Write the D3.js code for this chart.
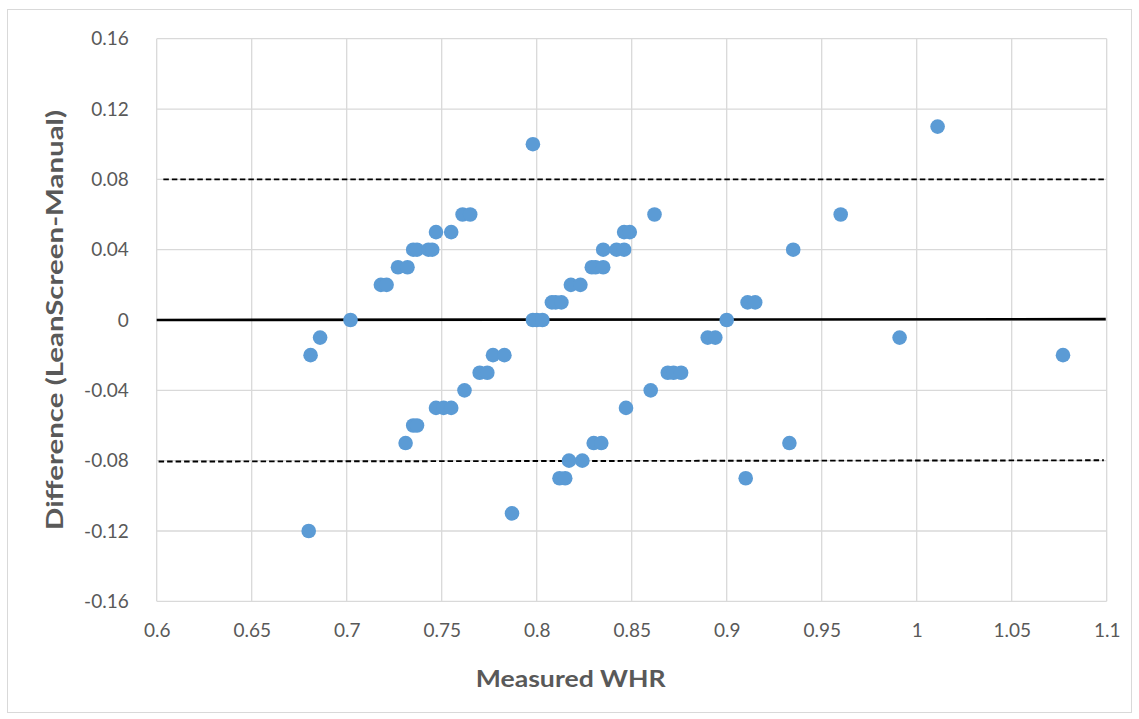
<!DOCTYPE html>
<html>
<head>
<meta charset="utf-8">
<script src="https://cdn.jsdelivr.net/npm/d3@7/dist/d3.min.js"></script>
<style>
  html, body { margin: 0; padding: 0; background: #fff; }
  svg { display: block; }
  text { font-family: Lato, "Open Sans", "DejaVu Sans", sans-serif; }
</style>
</head>
<body>
<svg id="chart" width="1139" height="719"></svg>
<script>
// Measured WHR (x) and Difference LeanScreen-Manual (y)
const whr = [0.681,0.686,0.702,0.718,0.721,0.727,0.732,0.735,0.737,0.743,0.745,0.747,0.755,0.761,0.765,0.798,
  0.762,0.770,0.774,0.777,0.783,0.747,0.751,0.755,0.798,0.800,0.803,0.808,0.810,0.813,0.818,0.823,
  0.829,0.831,0.835,0.835,0.842,0.846,0.846,0.849,0.862,0.960,0.935,0.911,0.915,0.900,0.890,0.894,
  0.869,0.872,0.876,0.860,0.847,0.731,0.735,0.737,0.787,0.680,0.812,0.815,0.817,0.824,0.830,0.834,
  0.933,0.910,1.011,0.991,1.077];
const diff = [-0.02,-0.01,0,0.02,0.02,0.03,0.03,0.04,0.04,0.04,0.04,0.05,0.05,0.06,0.06,0.10,
  -0.04,-0.03,-0.03,-0.02,-0.02,-0.05,-0.05,-0.05,0,0,0,0.01,0.01,0.01,0.02,0.02,
  0.03,0.03,0.03,0.04,0.04,0.04,0.05,0.05,0.06,0.06,0.04,0.01,0.01,0,-0.01,-0.01,
  -0.03,-0.03,-0.03,-0.04,-0.05,-0.07,-0.06,-0.06,-0.11,-0.12,-0.09,-0.09,-0.08,-0.08,-0.07,-0.07,
  -0.07,-0.09,0.11,-0.01,-0.02];

const xTicks = [0.6,0.65,0.7,0.75,0.8,0.85,0.9,0.95,1,1.05,1.1];
const yTicks = [-0.16,-0.12,-0.08,-0.04,0,0.04,0.08,0.12,0.16];
const xTickLabels = ["0.6","0.65","0.7","0.75","0.8","0.85","0.9","0.95","1","1.05","1.1"];
const yTickLabels = ["-0.16","-0.12","-0.08","-0.04","0","0.04","0.08","0.12","0.16"];

// Mean line and limits of agreement
const refLineY0 = [0, 0.08, -0.0805];
const refLineY1 = [0.0005, 0.08, -0.0798];
const refLineX0 = [0.6, 0.6035, 0.601];
const refLineX1 = [1.0995, 1.0985, 1.0985];
const refLineDashed = [false, true, true];

const xTitle = "Measured WHR";
const yTitle = "Difference (LeanScreen-Manual)";

const svg = d3.select("#chart");
const plotLeft = 156.7, plotRight = 1106.7, plotTop = 38.7, plotBottom = 601.3;

const x = d3.scaleLinear().domain([0.6, 1.1]).range([plotLeft, plotRight]);
const y = d3.scaleLinear().domain([-0.16, 0.16]).range([plotBottom, plotTop]);

// outer chart border
svg.append("rect").attr("x", 7.5).attr("y", 9.5).attr("width", 1124).attr("height", 703)
  .attr("fill", "#fff").attr("stroke", "#d9d9d9").attr("stroke-width", 1);

// gridlines
const grid = svg.append("g");
grid.selectAll(".vg").data(xTicks).join("line")
  .attr("x1", d => x(d)).attr("x2", d => x(d)).attr("y1", plotTop).attr("y2", plotBottom)
  .attr("stroke", "#d9d9d9").attr("stroke-width", 1.3);
grid.selectAll(".hg").data(yTicks).join("line")
  .attr("x1", plotLeft).attr("x2", plotRight).attr("y1", d => y(d)).attr("y2", d => y(d))
  .attr("stroke", "#d9d9d9").attr("stroke-width", 1.3);

// axes labels via d3 axes
const xAxis = d3.axisBottom(x).tickValues(xTicks).tickFormat((d, i) => xTickLabels[i]).tickSize(0).tickPadding(22);
const gx = svg.append("g").attr("transform", `translate(0,${plotBottom})`).call(xAxis);
gx.select(".domain").remove();
gx.selectAll("text").attr("fill", "#595959").style("font-size", "19px").style("font-family", "Lato, sans-serif");

const yAxis = d3.axisLeft(y).tickValues(yTicks).tickFormat((d, i) => yTickLabels[i]).tickSize(0).tickPadding(28);
const gy = svg.append("g").attr("transform", `translate(${plotLeft},0)`).call(yAxis);
gy.select(".domain").remove();
gy.selectAll("text").attr("fill", "#595959").style("font-size", "19px").style("font-family", "Lato, sans-serif");

// reference lines
const refs = refLineY0.map((v, i) => ({ x0: refLineX0[i], x1: refLineX1[i], y0: v, y1: refLineY1[i], dashed: refLineDashed[i] }));
svg.append("g").selectAll("line").data(refs).join("line")
  .attr("x1", d => x(d.x0)).attr("x2", d => x(d.x1))
  .attr("y1", d => y(d.y0)).attr("y2", d => y(d.y1))
  .attr("stroke", "#000")
  .attr("stroke-width", d => d.dashed ? 1.9 : 2.6)
  .attr("stroke-dasharray", d => d.dashed ? "5.5,3" : null);

// points
const pts = whr.map((v, i) => ({ x: v, y: diff[i] }));
svg.append("g").selectAll("circle").data(pts).join("circle")
  .attr("cx", d => x(d.x)).attr("cy", d => y(d.y)).attr("r", 7.3)
  .attr("fill", "#5b9bd5");

// titles
svg.append("text").attr("x", (plotLeft + plotRight) / 2 - 61).attr("y", 687)
  .attr("text-anchor", "middle").attr("fill", "#595959")
  .style("font-size", "23px").style("font-weight", "bold")
  .attr("textLength", 190).attr("lengthAdjust", "spacingAndGlyphs")
  .text(xTitle);

svg.append("text").attr("transform", `translate(63,${(plotTop + plotBottom) / 2}) rotate(-90)`)
  .attr("text-anchor", "middle").attr("fill", "#595959")
  .style("font-size", "23px").style("font-weight", "bold")
  .attr("textLength", 420).attr("lengthAdjust", "spacingAndGlyphs")
  .text(yTitle);
</script>
</body>
</html>
